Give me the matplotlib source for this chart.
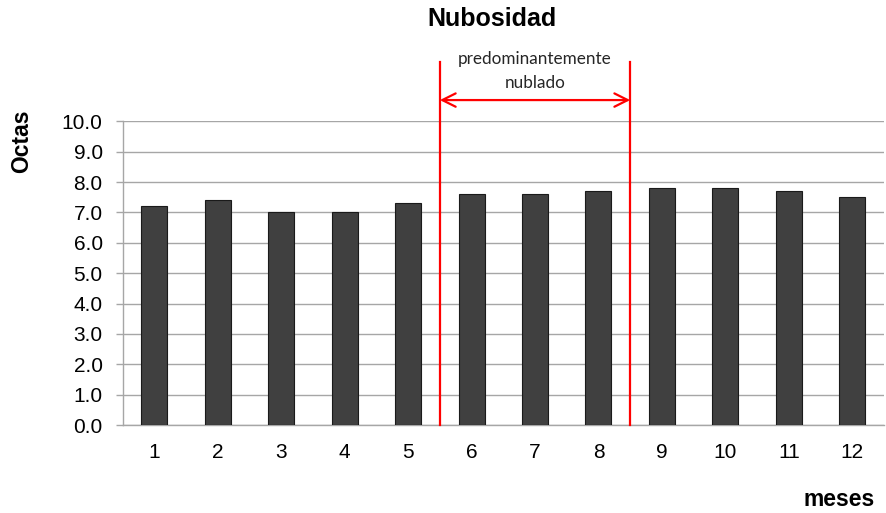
import matplotlib
matplotlib.use("Agg")
import matplotlib.pyplot as plt

# Monthly mean cloud cover (octas)
months = ["1", "2", "3", "4", "5", "6", "7", "8", "9", "10", "11", "12"]
octas = [7.2, 7.4, 7.0, 7.0, 7.3, 7.6, 7.6, 7.7, 7.8, 7.8, 7.7, 7.5]
yticks = [0, 1, 2, 3, 4, 5, 6, 7, 8, 9, 10]

# Overcast period bracket: from month 6 through month 8
span_start, span_end = 5, 8
span_label = "predominantemente\nnublado"

plt.rcParams["font.family"] = ["Liberation Sans", "DejaVu Sans"]

fig = plt.figure(figsize=(8.86, 5.13), dpi=100)
ax = fig.add_axes([0.1383, 0.1715, 0.8595, 0.592])

x = list(range(len(months)))
ax.bar(x, octas, width=0.41, color="#404040", edgecolor="#1a1a1a", linewidth=0.8, zorder=3)

ax.set_xlim(-0.5, len(months) - 0.5)
ax.set_ylim(0, 10)
ax.set_yticks(yticks)
ax.set_yticklabels([f"{v:.1f}" for v in yticks])
ax.set_xticks(x)
ax.set_xticklabels(months)

ax.yaxis.grid(True, color="#a6a6a6", linewidth=1.0, zorder=0)
ax.set_axisbelow(True)
for side in ["top", "right"]:
    ax.spines[side].set_visible(False)
for side in ["left", "bottom"]:
    ax.spines[side].set_color("#a6a6a6")
    ax.spines[side].set_linewidth(1.0)
ax.tick_params(axis="y", length=4.8, color="#a6a6a6", width=1.0, labelsize=15, pad=9.5)
ax.tick_params(axis="x", length=0, labelsize=15, pad=13)

# Red bracket marking the overcast months
xa, xb = span_start - 0.5, span_end - 0.5
for xv in (xa, xb):
    ax.plot([xv, xv], [0, 11.95], color="#ff0000", linewidth=1.6, clip_on=False, zorder=4)
ax.annotate("", xy=(xa, 10.7), xytext=(xb, 10.7),
            arrowprops=dict(arrowstyle="<->", color="#ff0000", lw=1.6,
                            mutation_scale=24, shrinkA=0, shrinkB=0),
            annotation_clip=False)
ax.text((xa + xb) / 2, 11.67, span_label, ha="center", va="center",
        fontsize=12.3, family=["Lato", "DejaVu Sans"], color="#262626",
        linespacing=1.6, clip_on=False)

fig.text(492 / 886, 1 - 19 / 513, "Nubosidad", ha="center", va="center",
         fontsize=18, fontweight="bold")
fig.text(22 / 886, 1 - 141 / 513, "Octas", ha="center", va="center",
         rotation=90, fontsize=16.5, fontweight="bold")
fig.text(839 / 886, 1 - 500 / 513, "meses", ha="center", va="center",
         fontsize=16.5, fontweight="bold")

fig.savefig("out.png", dpi=100)
